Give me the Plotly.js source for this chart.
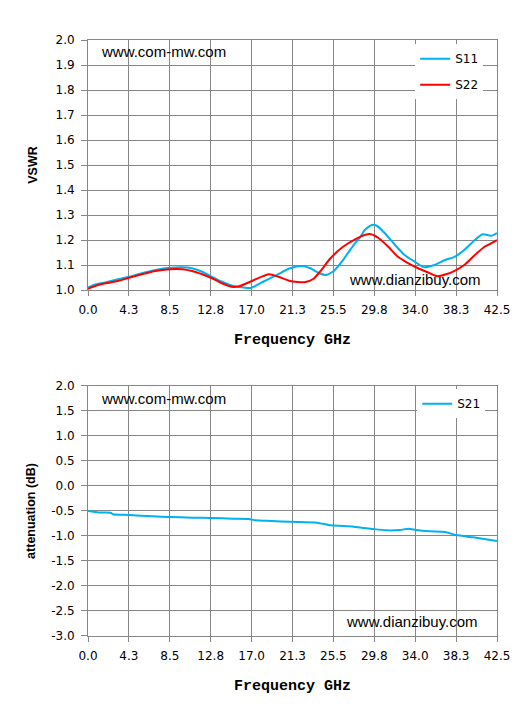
<!DOCTYPE html>
<html>
<head>
<meta charset="utf-8">
<script src="https://cdn.plot.ly/plotly-3.0.1.min.js"></script>
<style>html,body{margin:0;padding:0;background:#fff;}#chart{width:530px;height:712px;}</style>
</head>
<body>
<div id="chart"></div>
<script>
// ---- data ----
const s11Freq = [0, 0.8, 1.8, 3.2, 4.25, 5.6, 7.0, 8.5, 9.8, 10.8, 11.85, 12.9, 13.8, 15.1, 16.0, 16.9, 18.2, 19.6, 21.0, 22.2, 23.1, 24.1, 24.7, 25.5, 26.5, 27.6, 28.3, 28.75, 29.5, 30.0, 30.85, 31.9, 32.9, 33.95, 34.9, 36.0, 37.1, 38.1, 39.1, 40.2, 41.0, 41.9, 42.5];
const s11Vswr = [1.01, 1.023, 1.03, 1.044, 1.053, 1.067, 1.08, 1.089, 1.091, 1.087, 1.073, 1.053, 1.035, 1.016, 1.011, 1.008, 1.033, 1.06, 1.087, 1.096, 1.087, 1.066, 1.06, 1.075, 1.12, 1.18, 1.212, 1.24, 1.26, 1.257, 1.227, 1.18, 1.14, 1.113, 1.091, 1.1, 1.12, 1.133, 1.16, 1.2, 1.223, 1.217, 1.228];

const s22Freq = [0, 0.8, 1.8, 3.2, 4.25, 5.6, 7.0, 8.5, 9.8, 10.8, 11.85, 12.9, 13.9, 15.1, 15.8, 17.2, 18.8, 19.8, 21.0, 22.5, 23.4, 24.1, 25.2, 26.5, 27.9, 28.75, 29.3, 30.15, 31.2, 32.2, 33.3, 34.3, 35.3, 36.3, 37.2, 38.1, 39.1, 40.2, 41.2, 41.9, 42.5];
const s22Vswr = [1.005, 1.017, 1.027, 1.037, 1.049, 1.063, 1.076, 1.083, 1.083, 1.076, 1.063, 1.047, 1.027, 1.012, 1.016, 1.039, 1.063, 1.053, 1.036, 1.031, 1.044, 1.073, 1.127, 1.173, 1.206, 1.22, 1.224, 1.209, 1.173, 1.133, 1.107, 1.087, 1.071, 1.055, 1.063, 1.077, 1.1, 1.14, 1.173, 1.187, 1.2];

const s21Freq = [0, 1.1, 2.35, 2.6, 4.25, 6.7, 8.5, 10.8, 12.8, 15.0, 16.7, 17.4, 19.1, 21.0, 23.8, 25.2, 27.6, 29.6, 31.0, 32.4, 33.3, 34.1, 35.5, 37.1, 38.25, 40.0, 42.5];
const s21Atten = [-0.5, -0.53, -0.534, -0.566, -0.58, -0.606, -0.62, -0.633, -0.64, -0.653, -0.66, -0.686, -0.7, -0.717, -0.733, -0.787, -0.813, -0.86, -0.887, -0.88, -0.853, -0.88, -0.907, -0.92, -0.98, -1.027, -1.1];

const xTickVals = [0, 4.25, 8.5, 12.75, 17, 21.25, 25.5, 29.75, 34, 38.25, 42.5];
const xTickText = ['0.0', '4.3', '8.5', '12.8', '17.0', '21.3', '25.5', '29.8', '34.0', '38.3', '42.5'];
const y1TickVals = [1.0, 1.1, 1.2, 1.3, 1.4, 1.5, 1.6, 1.7, 1.8, 1.9, 2.0];
const y1TickText = ['1.0', '1.1', '1.2', '1.3', '1.4', '1.5', '1.6', '1.7', '1.8', '1.9', '2.0'];
const y2TickVals = [-3.0, -2.5, -2.0, -1.5, -1.0, -0.5, 0.0, 0.5, 1.0, 1.5, 2.0];
const y2TickText = ['-3.0', '-2.5', '-2.0', '-1.5', '-1.0', '-0.5', '0.0', '0.5', '1.0', '1.5', '2.0'];

const blue = '#00B0F0', red = '#FF0000', grid = '#878787';
const tickFont = {family: 'DejaVu Sans', size: 12, color: '#000'};
const xTitleFont = {family: 'Liberation Mono', size: 15, color: '#000', weight: 'bold'};
const yTitleFont = {family: 'Liberation Sans', size: 12.5, color: '#000', weight: 'bold'};

const traces = [
  {x: s11Freq, y: s11Vswr, name: 'S11', type: 'scatter', mode: 'lines', line: {color: blue, width: 2, shape: 'spline', smoothing: 0.6}, xaxis: 'x', yaxis: 'y', legend: 'legend', legendgroup: 'a'},
  {x: s22Freq, y: s22Vswr, name: 'S22', type: 'scatter', mode: 'lines', line: {color: red, width: 2, shape: 'spline', smoothing: 0.6}, xaxis: 'x', yaxis: 'y', legend: 'legend', legendgroup: 'b'},
  {x: s21Freq, y: s21Atten, name: 'S21', type: 'scatter', mode: 'lines', line: {color: blue, width: 2, shape: 'spline', smoothing: 0.6}, xaxis: 'x2', yaxis: 'y2', legend: 'legend2'}
];

function xAxis(anchor) {
  return {
    anchor: anchor, domain: [0, 1], range: [0, 42.5],
    tickmode: 'array', tickvals: xTickVals, ticktext: xTickText,
    showgrid: true, gridcolor: grid, gridwidth: 1,
    showline: true, linecolor: grid, linewidth: 1, mirror: true,
    ticks: 'outside', ticklen: 5, tickcolor: grid, tickwidth: 1,
    tickfont: tickFont, ticklabelstandoff: 4, zeroline: false,
    title: {text: 'Frequency GHz\u00a0\u00a0', font: xTitleFont, standoff: 17}
  };
}
function yAxis(anchor, domain, range, vals, text, title, standoff) {
  return {
    anchor: anchor, domain: domain, range: range,
    tickmode: 'array', tickvals: vals, ticktext: text,
    showgrid: true, gridcolor: grid, gridwidth: 1,
    showline: true, linecolor: grid, linewidth: 1, mirror: true,
    ticks: 'outside', ticklen: 6, tickcolor: grid, tickwidth: 1,
    tickfont: tickFont, ticklabelstandoff: 4, zeroline: false,
    title: {text: title, font: yTitleFont, standoff: standoff}
  };
}

const wmFont = {family: 'Liberation Sans', size: 15, color: '#000'};
const layout = {
  width: 530, height: 712,
  margin: {l: 88, r: 33, t: 40, b: 76},
  paper_bgcolor: '#fff', plot_bgcolor: '#fff',
  showlegend: true,
  xaxis: xAxis('y'),
  yaxis: yAxis('x', [0.5805, 1], [1, 2], y1TickVals, y1TickText, 'VSWR', 15),
  xaxis2: xAxis('y2'),
  yaxis2: yAxis('x2', [0, 0.4195], [-3, 2], y2TickVals, y2TickText, 'attenuation (dB)', 12),
  legend: {x: 0.8, xanchor: 'left', y: 0.993, yanchor: 'top', bgcolor: '#fff', borderwidth: 0,
           font: {family: 'DejaVu Sans', size: 12, color: '#000'}, traceorder: 'grouped', tracegroupgap: 7},
  legend2: {x: 0.805, xanchor: 'left', y: 0.414, yanchor: 'top', bgcolor: '#fff', borderwidth: 0,
           font: {family: 'DejaVu Sans', size: 12, color: '#000'}},
  annotations: [
    {xref: 'paper', yref: 'paper', x: 0.027, y: (636 - 52) / 596, xanchor: 'left', yanchor: 'middle', text: 'www.com-mw.com', showarrow: false, font: wmFont},
    {xref: 'paper', yref: 'paper', x: (347 - 88) / 409, y: (636 - 279) / 596, xanchor: 'left', yanchor: 'middle', text: 'www.dianzibuy.com', showarrow: false, font: wmFont},
    {xref: 'paper', yref: 'paper', x: 0.027, y: (636 - 398) / 596, xanchor: 'left', yanchor: 'middle', text: 'www.com-mw.com', showarrow: false, font: wmFont},
    {xref: 'paper', yref: 'paper', x: (344 - 88) / 409, y: (636 - 621) / 596, xanchor: 'left', yanchor: 'middle', text: 'www.dianzibuy.com', showarrow: false, font: wmFont}
  ]
};

Plotly.newPlot('chart', traces, layout, {displayModeBar: false, staticPlot: true});
</script>
</body>
</html>
